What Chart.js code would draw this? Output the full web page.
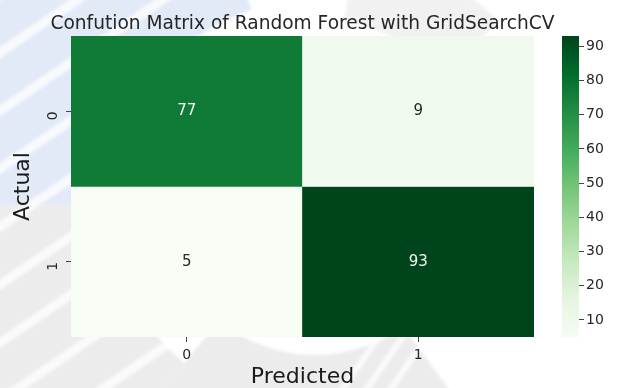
<!DOCTYPE html>
<html>
<head>
<meta charset="utf-8">
<script src="https://cdn.jsdelivr.net/npm/chart.js@4.4.1/dist/chart.umd.min.js"></script>
<style>
  html, body { margin: 0; padding: 0; background: #ffffff; overflow: hidden; }
  #wrap { position: relative; width: 622px; height: 388px; }
  #wrap canvas { position: absolute; top: 0; }
  #heat { left: 0; }
  #cbar { left: 540px; }
</style>
</head>
<body>
<div id="wrap">
  <canvas id="heat" width="622" height="388"></canvas>
  <canvas id="cbar" width="82" height="388"></canvas>
</div>
<script>
// Confusion matrix counts (rows = actual class, columns = predicted class)
const predictedLabels = ['0', '1'];
const actualLabels = ['0', '1'];
const actual0Counts = [77, 9];
const actual1Counts = [5, 93];
const colorbarTicks = [10, 20, 30, 40, 50, 60, 70, 80, 90];
const titleText = 'Confution Matrix of Random Forest with GridSearchCV';

const rows = [actual0Counts, actual1Counts];
const allCounts = rows.flat();
const vmin = Math.min(...allCounts);
const vmax = Math.max(...allCounts);

Chart.defaults.font.family = "'DejaVu Sans', sans-serif";
Chart.defaults.color = '#262626';

// matplotlib "Greens" colormap anchor colours
const greens = ['#f7fcf5', '#e5f5e0', '#c7e9c0', '#a1d99b', '#74c476',
                '#41ab5d', '#238b45', '#006d2c', '#00441b'];

function hexToRgb(h) {
  const n = parseInt(h.slice(1), 16);
  return [(n >> 16) & 255, (n >> 8) & 255, n & 255];
}
function greensRgb(t) {
  t = Math.max(0, Math.min(1, t));
  const p = t * (greens.length - 1);
  const i = Math.min(Math.floor(p), greens.length - 2);
  const f = p - i;
  const a = hexToRgb(greens[i]), b = hexToRgb(greens[i + 1]);
  return a.map((c, k) => Math.round(c + (b[k] - c) * f));
}
function colorFor(v) {
  const [r, g, b] = greensRgb((v - vmin) / (vmax - vmin));
  return `rgb(${r},${g},${b})`;
}
function textColorFor(v) {
  const rgb = greensRgb((v - vmin) / (vmax - vmin)).map(c => {
    c /= 255;
    return c <= 0.03928 ? c / 12.92 : Math.pow((c + 0.055) / 1.055, 2.4);
  });
  const lum = 0.2126 * rgb[0] + 0.7152 * rgb[1] + 0.0722 * rgb[2];
  return lum > 0.408 ? '#262626' : '#f4f7f4';
}

// faint logo shapes behind the figure
function ringSector(ctx, cx, cy, r0, r1, a0, a1) {
  ctx.beginPath();
  ctx.arc(cx, cy, r1, a0, a1);
  ctx.arc(cx, cy, r0, a1, a0, true);
  ctx.closePath();
}
const watermark = {
  id: 'watermark',
  beforeDraw(chart) {
    const ctx = chart.ctx;
    const cx = 315, cy = 205, PI = Math.PI;
    ctx.save();
    ctx.filter = 'blur(1.5px)';
    // blue upper-left part of the ring
    ctx.fillStyle = 'rgba(178,196,232,0.36)';
    ringSector(ctx, cx, cy, 205, 380, PI * 1.0, PI * 1.40);
    ctx.fill();
    // grey lower part of the ring
    ctx.fillStyle = 'rgba(175,175,180,0.24)';
    ringSector(ctx, cx, cy, 205, 380, PI * 0.72, PI * 1.0);
    ctx.fill();
    ringSector(ctx, cx, cy, 150, 250, PI * 0.30, PI * 0.72);
    ctx.fill();
    ctx.fillStyle = 'rgba(175,175,180,0.18)';
    ringSector(ctx, cx, cy, 185, 260, PI * 1.55, PI * 1.75);
    ctx.fill();
    // white diagonal bands
    ctx.strokeStyle = 'rgba(255,255,255,0.75)';
    ctx.lineWidth = 9;
    for (let k = -3; k < 8; k++) {
      const x0 = -40, y0 = 80 + k * 58;
      ctx.beginPath();
      ctx.moveTo(x0, y0);
      ctx.lineTo(x0 + 220, y0 - 150);
      ctx.stroke();
    }
    ctx.lineWidth = 6;
    for (let k = 0; k < 3; k++) {
      ctx.beginPath();
      ctx.moveTo(335 + k * 24, 400);
      ctx.lineTo(380 + k * 24, 335);
      ctx.stroke();
    }
    ctx.restore();
  }
};

// figure title centred over the heatmap
const heatTitle = {
  id: 'heatTitle',
  afterDraw(chart) {
    const { ctx, chartArea } = chart;
    ctx.save();
    ctx.font = "18.6px 'DejaVu Sans'";
    ctx.fillStyle = '#262626';
    ctx.textAlign = 'center';
    ctx.textBaseline = 'alphabetic';
    ctx.fillText(titleText, (chartArea.left + chartArea.right) / 2, 29);
    ctx.restore();
  }
};

// count written in the middle of every cell
const cellLabels = {
  id: 'cellLabels',
  afterDatasetsDraw(chart) {
    const ctx = chart.ctx;
    ctx.save();
    ctx.font = "15px 'DejaVu Sans'";
    ctx.textAlign = 'center';
    ctx.textBaseline = 'middle';
    chart.data.datasets.forEach((ds, i) => {
      chart.getDatasetMeta(i).data.forEach((bar, j) => {
        const { x, y, base } = bar.getProps(['x', 'y', 'base'], true);
        const v = ds.counts[j];
        ctx.fillStyle = textColorFor(v);
        ctx.fillText(String(v), x, (y + base) / 2);
      });
    });
    ctx.restore();
  }
};

new Chart(document.getElementById('heat'), {
  type: 'bar',
  data: {
    labels: predictedLabels,
    datasets: rows.map((vals, r) => ({
      label: 'Actual ' + actualLabels[r],
      data: vals.map(() => [r, r + 1]),
      counts: vals,
      backgroundColor: vals.map(colorFor),
      borderWidth: 0,
      borderSkipped: false,
      barPercentage: 1,
      categoryPercentage: 1,
      grouped: false
    }))
  },
  options: {
    responsive: false,
    animation: false,
    devicePixelRatio: 1,
    layout: { padding: { left: 6, right: 88, top: 36, bottom: 0 } },
    plugins: {
      legend: { display: false },
      tooltip: { enabled: false },
      title: { display: false }
    },
    scales: {
      x: {
        grid: { offset: false, drawOnChartArea: false, tickLength: 5, color: '#444444', lineWidth: 1 },
        border: { display: false },
        ticks: { font: { size: 14 }, color: '#262626', padding: 5 },
        title: { display: true, text: 'Predicted', font: { size: 22, lineHeight: 1 }, color: '#1a1a1a', padding: { top: 0, bottom: 0 } },
        afterFit(s) { s.height = 51; }
      },
      y: {
        min: 0,
        max: 2,
        reverse: true,
        afterBuildTicks(s) { s.ticks = actualLabels.map((_, i) => ({ value: i + 0.5 })); },
        grid: { drawOnChartArea: false, tickLength: 5, color: '#444444', lineWidth: 1 },
        border: { display: false },
        ticks: {
          minRotation: 90, maxRotation: 90, padding: 13,
          font: { size: 14 }, color: '#262626',
          callback: v => actualLabels[Math.floor(v)]
        },
        title: { display: true, text: 'Actual', font: { size: 22 }, color: '#1a1a1a', padding: { top: 4, bottom: 0 } },
        afterFit(s) { s.width = 65; }
      }
    }
  },
  plugins: [watermark, cellLabels, heatTitle]
});

// colour bar: one floating bar from vmin to vmax filled with the colormap
new Chart(document.getElementById('cbar'), {
  type: 'bar',
  data: {
    labels: [''],
    datasets: [{
      data: [[vmin, vmax]],
      backgroundColor(c) {
        const { ctx, chartArea } = c.chart;
        if (!chartArea) return greens[0];
        const g = ctx.createLinearGradient(0, chartArea.bottom, 0, chartArea.top);
        greens.forEach((col, i) => g.addColorStop(i / (greens.length - 1), col));
        return g;
      },
      borderWidth: 0,
      barPercentage: 1,
      categoryPercentage: 1
    }]
  },
  options: {
    responsive: false,
    animation: false,
    devicePixelRatio: 1,
    layout: { padding: { left: 22, right: 0, top: 36, bottom: 51 } },
    plugins: { legend: { display: false }, tooltip: { enabled: false } },
    scales: {
      x: { display: false },
      y: {
        position: 'right',
        min: vmin,
        max: vmax,
        afterBuildTicks(s) { s.ticks = colorbarTicks.map(v => ({ value: v })); },
        grid: { drawOnChartArea: false, tickLength: 5, color: '#444444', lineWidth: 1 },
        border: { display: false },
        ticks: { font: { size: 14 }, color: '#262626', padding: 2 },
        afterFit(s) { s.width = 43; }
      }
    }
  }
});
</script>
</body>
</html>
